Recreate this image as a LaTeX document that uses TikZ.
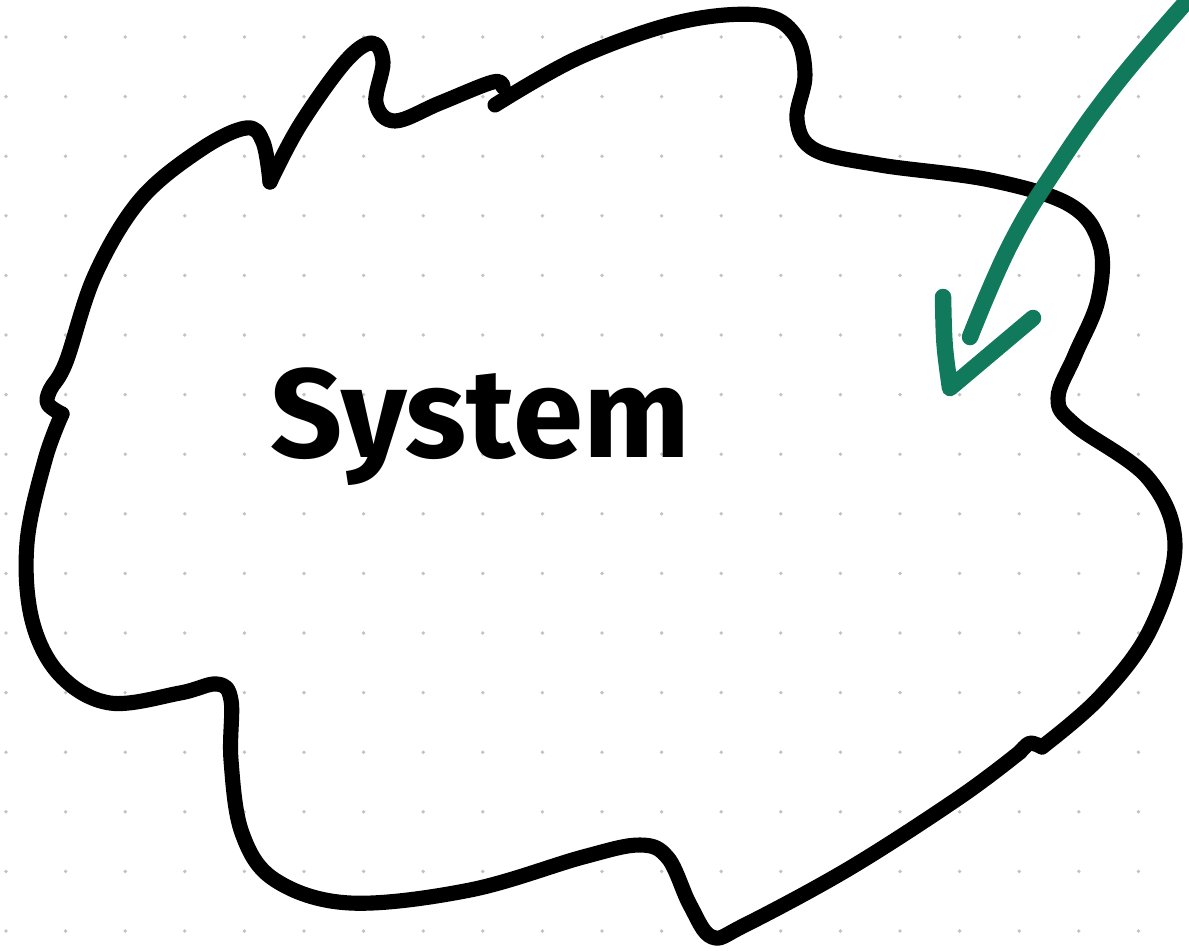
\documentclass[tikz,border=0pt]{standalone}
\usepackage{fontspec}
\setmainfont{Fira Sans}
\definecolor{arrowgreen}{RGB}{17,122,92}
\definecolor{dotgray}{RGB}{195,195,195}
\tikzset{
  outline/.style={line width=8.6pt, line cap=round, line join=round, black},
  greenline/.style={line width=9.4pt, line cap=round, line join=round, arrowgreen},
  griddot/.style={fill=dotgray, draw=none},
}
\begin{document}
\begin{tikzpicture}[x=0.02cm, y=-0.02cm]
\useasboundingbox (0,0) rectangle (1189,950);
\fill[white] (0,0) rectangle (1189,950);
% dot grid
\foreach \i in {0,...,19} {
  \foreach \j in {0,...,15} {
    \fill[griddot] ({6+59.6*\i},{37+59.6*\j}) circle (1.9);
  }
}
% blob outline
\draw[outline] plot[smooth, tension=0.6] coordinates {
  (270,182) (263,142) (246,128) (200,150) (140,200) (95,275) (66,362)
  (50,390) (48,404) (62,414)};
\draw[outline] plot[smooth, tension=0.6] coordinates {
  (62,414) (45,460) (27,543) (32,620) (60,675) (110,703) (180,693)
  (217,684) (231,700) (231,760) (242,833) (275,880) (350,903) (470,890)
  (583,857) (640,845) (668,858) (690,905) (712,937) (745,925) (850,868)
  (960,797) (1020,752)};
\draw[outline] plot[smooth, tension=0.5] coordinates {
  (1020,752) (1030,743) (1042,747)};
\draw[outline] plot[smooth, tension=0.6] coordinates {
  (1042,747) (1100,697) (1150,630) (1175,545) (1148,478) (1075,425)
  (1058,398) (1075,355) (1098,300) (1100,245) (1070,205) (990,180)
  (880,165) (815,150) (797,120) (805,75) (795,35) (760,15) (680,22)
  (580,57) (495,105)};
\draw[outline] plot[smooth, tension=0.6] coordinates {
  (270,182) (300,125) (345,62) (372,43) (383,62) (376,103) (395,121)
  (440,103) (493,82) (503,87)};
% label
\node[anchor=base, font=\bfseries\fontsize{72}{80}\selectfont] (label) at (480,457) {System};
% green arrow
\draw[greenline] plot[smooth, tension=0.7] coordinates {
  (1195,-8) (1117,83) (1057,167) (1010,245) (970,337)};
\draw[greenline] (943,297) .. controls (944,345) .. (950,388) -- (1033,318);
\end{tikzpicture}
\end{document}
